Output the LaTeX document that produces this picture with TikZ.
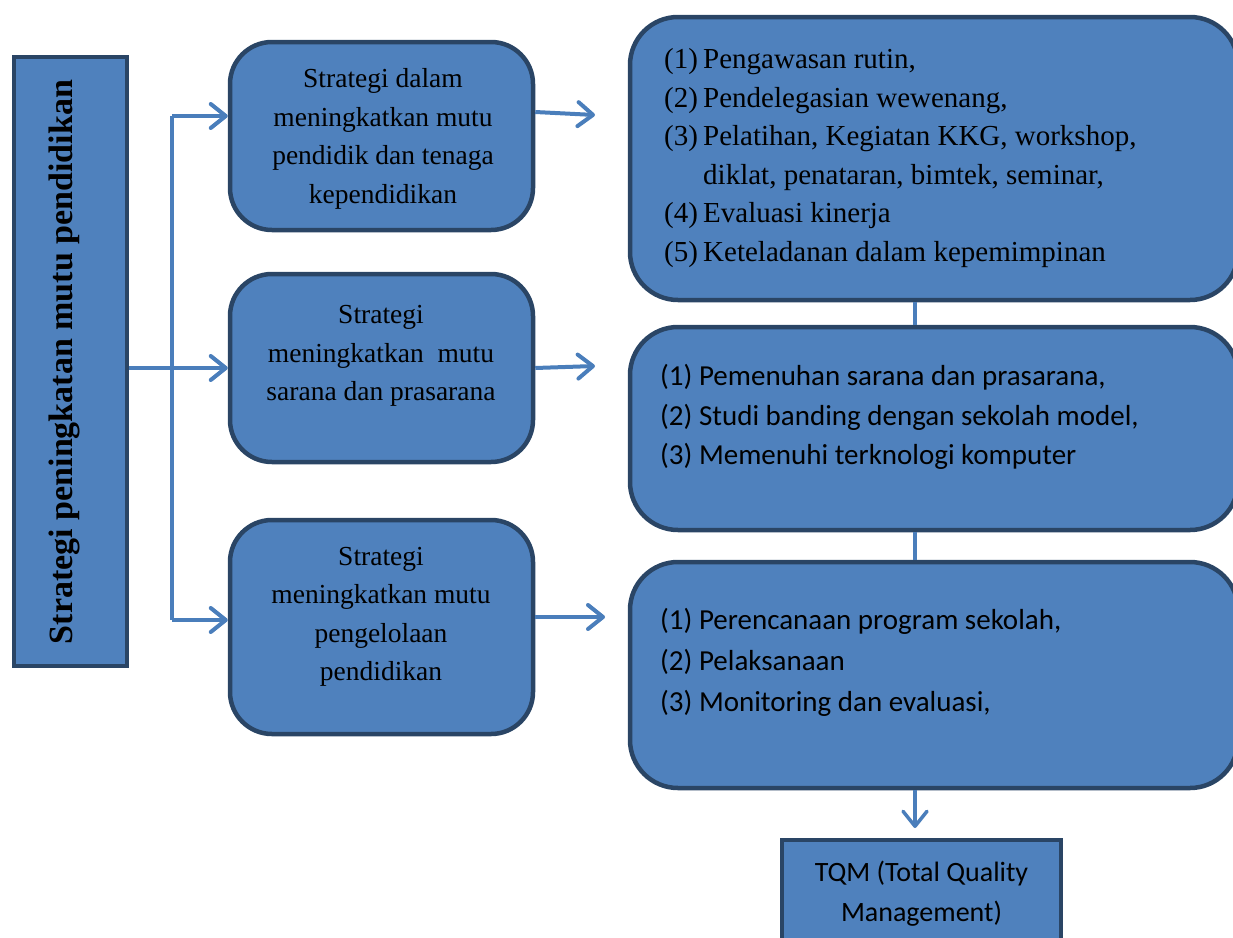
\documentclass[tikz,border=0pt]{standalone}
\usepackage{fontspec}
\setmainfont{Liberation Serif}
\newfontfamily\calfont{Carlito}
\usetikzlibrary{arrows.meta}
\definecolor{boxfill}{HTML}{4F81BD}
\definecolor{boxline}{HTML}{2A4565}
\definecolor{arrcol}{HTML}{4A7EBB}
\tikzset{
  plainbox/.style={draw=boxline, fill=boxfill, line width=4.5pt, inner sep=0pt},
  roundbox/.style={plainbox, rounded corners=42pt},
  txt/.style={inner sep=0pt, text=black},
  conn/.style={draw=arrcol, line width=4pt},
  arr/.style={conn, -{Straight Barb[length=15pt,width=24pt,round]}},
}
\begin{document}
\begin{tikzpicture}[x=1pt,y=-1pt]
\useasboundingbox (0,0) rectangle (1233,937);
\clip (0,0) rectangle (1233,937);
% left box
\node[plainbox, minimum width=113pt, minimum height=609pt] (L) at (70.5,361.5) {};
\node[txt, rotate=90, font=\bfseries\fontsize{34}{40}\selectfont] (Lt) at (64,362) {Strategi peningkatan mutu pendidikan};
% middle boxes
\node[roundbox, minimum width=303pt, minimum height=188pt] (m1) at (381.5,136) {};
\node[roundbox, minimum width=303pt, minimum height=188pt] (m2) at (381.5,368) {};
\node[roundbox, minimum width=303pt, minimum height=214pt] (m3) at (381.5,627) {};
\node[txt, align=center, font=\fontsize{27.5}{38.5}\selectfont] (m1t) at (383,139) {Strategi dalam\\meningkatkan mutu\\pendidik dan tenaga\\kependidikan};
\node[txt, align=center, font=\fontsize{27.5}{38.5}\selectfont] (m2t) at (381,356) {Strategi\\meningkatkan\ \ mutu\\sarana dan prasarana};
\node[txt, align=center, font=\fontsize{27.5}{38.5}\selectfont] (m3t) at (381,617) {Strategi\\meningkatkan mutu\\pengelolaan\\pendidikan};
% right boxes
\node[roundbox, rounded corners=48pt, minimum width=608pt, minimum height=283pt] (r1) at (934,158.5) {};
\node[roundbox, rounded corners=48pt, minimum width=608pt, minimum height=203pt] (r2) at (934,428.5) {};
\node[roundbox, rounded corners=48pt, minimum width=608pt, minimum height=226pt] (r3) at (934,675) {};
\node[txt, anchor=west, align=left, font=\fontsize{29}{38.6}\selectfont] (r1t) at (664,158) {%
\makebox[39pt][l]{(1)}Pengawasan rutin,\\
\makebox[39pt][l]{(2)}Pendelegasian wewenang,\\
\makebox[39pt][l]{(3)}Pelatihan, Kegiatan KKG, workshop,\\
\hspace*{39pt}diklat, penataran, bimtek, seminar,\\
\makebox[39pt][l]{(4)}Evaluasi kinerja\\
\makebox[39pt][l]{(5)}Keteladanan dalam kepemimpinan};
\node[txt, anchor=west, align=left, font=\calfont\fontsize{29}{39.5}\selectfont] (r2t) at (660,417) {(1) Pemenuhan sarana dan prasarana,\\(2) Studi banding dengan sekolah model,\\(3) Memenuhi terknologi komputer};
\node[txt, anchor=west, align=left, font=\calfont\fontsize{29}{41}\selectfont] (r3t) at (660,662) {(1) Perencanaan program sekolah,\\(2) Pelaksanaan\\(3) Monitoring dan evaluasi,};
% TQM
\node[plainbox, minimum width=279pt, minimum height=115pt] (tqm) at (921.5,897.5) {};
\node[txt, align=center, font=\calfont\fontsize{28}{40}\selectfont] (tqmt) at (921.5,894) {TQM (Total Quality\\Management)};
% trunk connectors
\coordinate (t1) at (172,116);
\coordinate (t3) at (172,620);
\draw[conn] (t1) -- (t3);
\draw[arr] (t1) -- (m1.west |- t1);
\draw[arr] (L.east |- 0,368) -- (m2.west |- 0,368);
\draw[arr] (t3) -- (m3.west |- t3);
% middle to right
\coordinate (a1) at (595,115);
\coordinate (a2) at (595,366);
\coordinate (a3) at (605,617);
\draw[arr] (m1.east |- 0,112) -- (a1);
\draw[arr] (m2.east |- 0,368) -- (a2);
\draw[arr] (m3.east |- 0,617) -- (a3);
% right column links
\draw[conn, line width=3.5pt] (r1.south -| 915,0) -- (r2.north -| 915,0);
\draw[conn, line width=3.5pt] (r2.south -| 915,0) -- (r3.north -| 915,0);
\coordinate (d3) at (915,828);
\draw[arr, line width=3.5pt] (r3.south -| 915,0) -- (d3);
\end{tikzpicture}
\end{document}
